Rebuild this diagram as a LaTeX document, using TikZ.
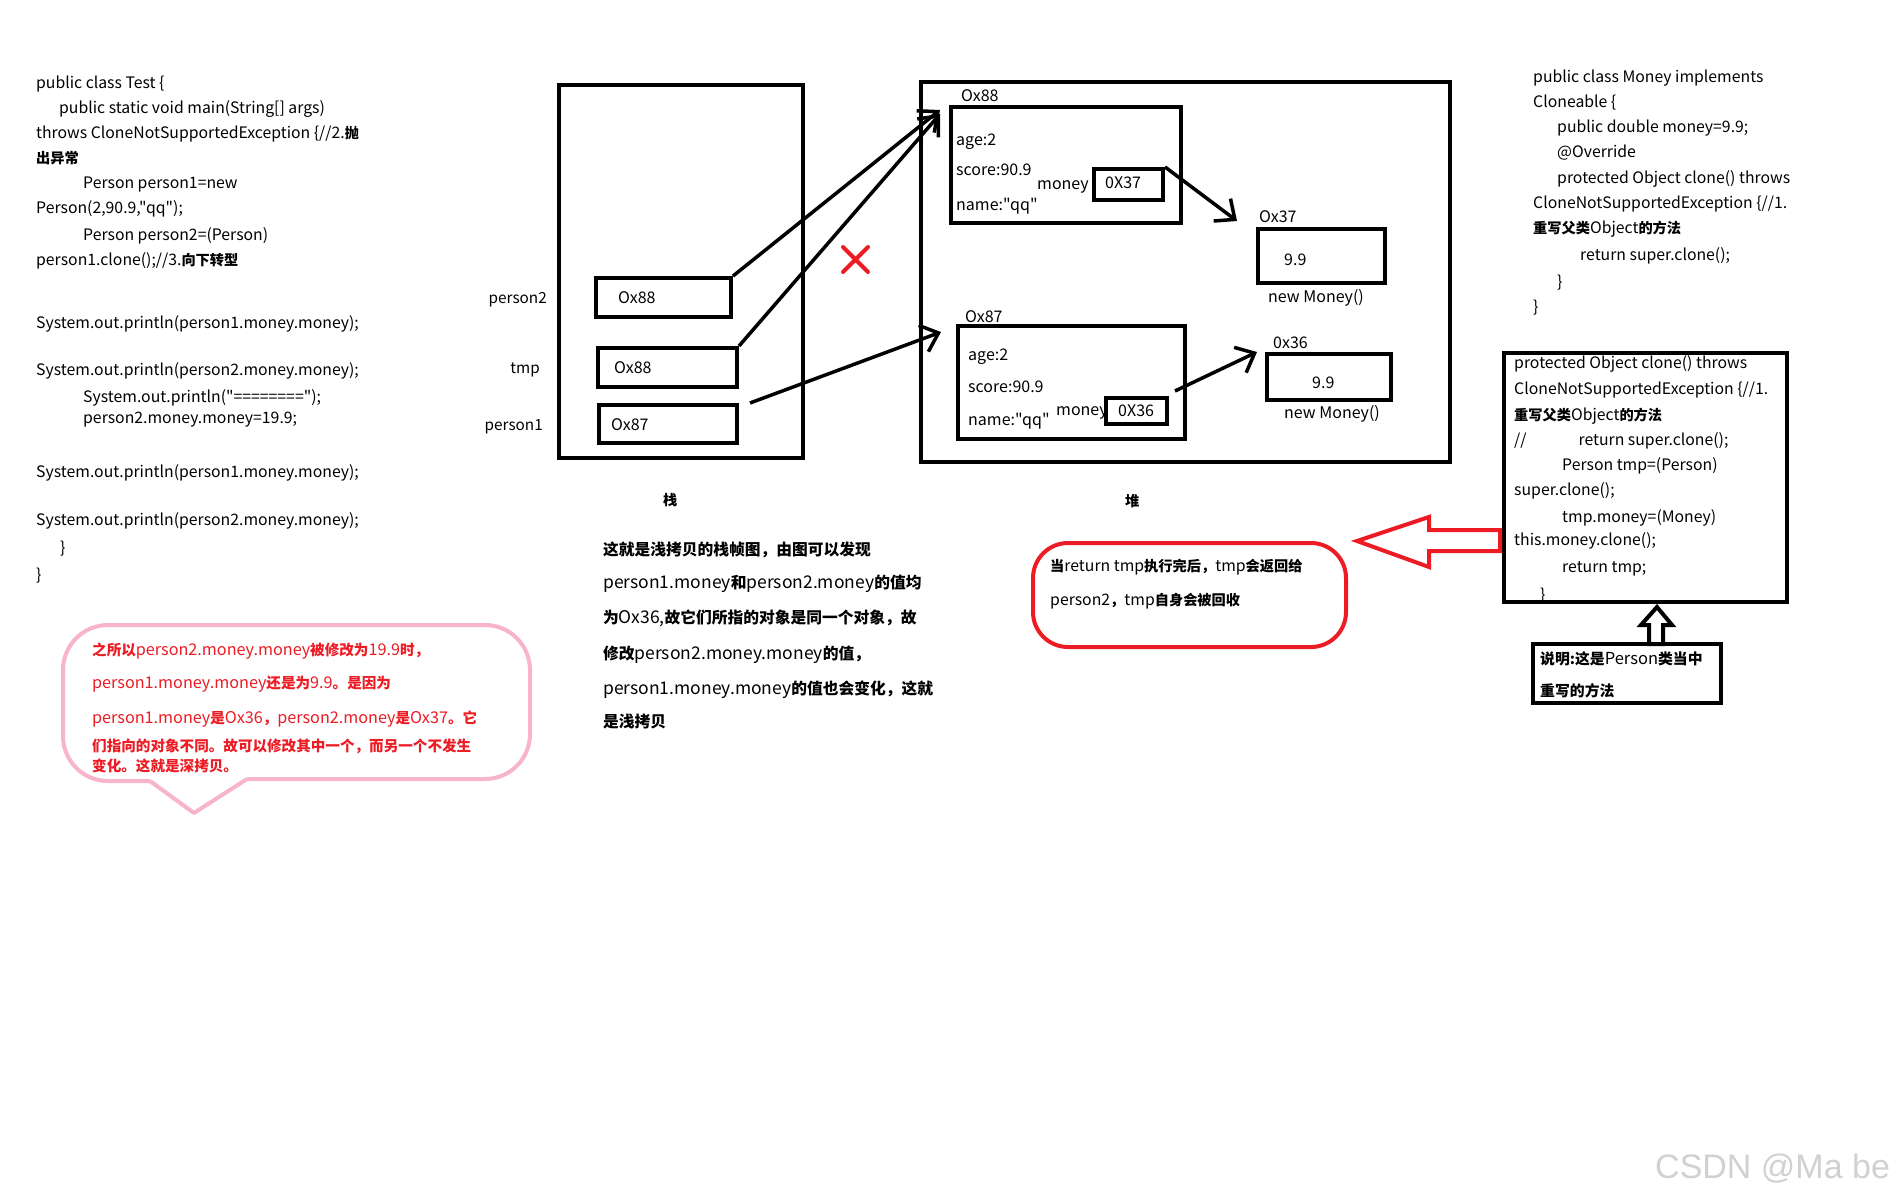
\documentclass[tikz,border=0pt]{standalone}
\usepackage{fontspec}
\setmainfont{Noto Sans CJK SC}[Ligatures=TeXOff]
\newfontfamily\cjkb{Noto Sans CJK SC}[Scale=0.9]
\newfontfamily\wmfont{Liberation Sans}
\usetikzlibrary{positioning, arrows.meta, calc}
\definecolor{redc}{HTML}{ED1C24}
\definecolor{pinkc}{HTML}{F8B4CB}
\newcommand{\zh}[1]{{\cjkb\bfseries #1}}

\begin{document}
\begin{tikzpicture}[x=1pt, y=-1pt,
    frame/.style={draw, line width=4pt, inner sep=0pt},
    cell/.style={draw, line width=4pt, inner sep=0pt},
    code/.style={anchor=base west, inner sep=0pt, font=\fontsize{15.8}{18}\selectfont},
    para/.style={code, font=\fontsize{17.5}{20}\selectfont},
    lbl/.style={anchor=base west, inner sep=0pt, font=\fontsize{16}{19}\selectfont},
    lblr/.style={lbl, anchor=base east, font=\fontsize{15.3}{18}\selectfont},
    arr/.style={-{Straight Barb[length=16pt, width=28pt]}, line width=3.5pt},
    hollow/.style={line width=4pt, fill=white, line join=miter},
  ]
    \useasboundingbox (0,0) rectangle (1900,1200);
    \fill[white] (0,0) rectangle (1900,1200);

    % left code
    \foreach \x/\y/\tx [count=\i] in {
        36/88/{public class Test \{},
        59/113/{public static void main(String[] args)},
        36/138/{throws CloneNotSupportedException \{//2.\zh{抛}},
        36/163/{\zh{出异常}},
        83/188/{Person person1=new},
        36/213/{Person(2,90.9,"qq");},
        83/240/{Person person2=(Person)},
        36/265/{person1.clone();//3.\zh{向下转型}},
        36/328/{System.out.println(person1.money.money);},
        36/375/{System.out.println(person2.money.money);},
        83/402/{System.out.println("========");},
        83/423/{person2.money.money=19.9;},
        36/477/{System.out.println(person1.money.money);},
        36/525/{System.out.println(person2.money.money);},
        60/553/{\}},
        36/580/{\}}}
      \node[code] (tl\i) at (\x,\y) {\tx};

    % stack
    \node[frame, minimum width=244, minimum height=373] (stack) at (681,271.5) {};
    \node[cell, minimum width=135, minimum height=39] (p2) at (663.5,297.5) {};
    \node[cell, minimum width=139, minimum height=39] (tm) at (667.5,367.5) {};
    \node[cell, minimum width=138, minimum height=38] (p1) at (668,424) {};
    \node[lbl] (p2v) at (618,303) {Ox88};
    \node[lbl] (tmv) at (614,373) {Ox88};
    \node[lbl] (p1v) at (611,430) {Ox87};
    \node[lblr] (p2n) at (547,303) {person2};
    \node[lblr] (tmn) at (540,373) {tmp};
    \node[lblr] (p1n) at (543,430) {person1};
    \node[code] (stk) at (663,505) {\zh{栈}};

    % heap
    \node[frame, minimum width=529, minimum height=380] (heap) at (1185.5,272) {};
    \node[cell, minimum width=230, minimum height=116] (h88) at (1066,165) {};
    \node[cell, minimum width=69, minimum height=31] (m37) at (1128.5,184.5) {};
    \node[cell, minimum width=127, minimum height=54] (mo37) at (1321.5,256) {};
    \node[cell, minimum width=227, minimum height=113] (h87) at (1071.5,382.5) {};
    \node[cell, minimum width=61, minimum height=26] (m36) at (1136.5,411) {};
    \node[cell, minimum width=124, minimum height=46] (mo36) at (1329,377) {};
    \node[code] (hp) at (1125,506) {\zh{堆}};

    \node[lbl] (h88n) at (961,101) {Ox88};
    \node[lbl] (h88a) at (956,145) {age:2};
    \node[lbl] (h88s) at (956,175) {score:90.9};
    \node[lbl] (h88m) at (956,210) {name:"qq"};
    \node[lbl] (m37n) at (1037,189) {money};
    \node[lbl] (m37v) at (1105,188) {0X37};
    \node[lbl] (mo37n) at (1259,222) {Ox37};
    \node[lbl] (mo37v) at (1284,265) {9.9};
    \node[lbl] (mo37c) at (1268,302) {new Money()};

    \node[lbl] (h87n) at (965,322) {Ox87};
    \node[lbl] (h87a) at (968,360) {age:2};
    \node[lbl] (h87s) at (968,392) {score:90.9};
    \node[lbl] (h87m) at (968,425) {name:"qq"};
    \node[lbl] (m36n) at (1056,415) {money};
    \node[lbl] (m36v) at (1118,416) {0X36};
    \node[lbl] (mo36n) at (1273,348) {0x36};
    \node[lbl] (mo36v) at (1312,388) {9.9};
    \node[lbl] (mo36c) at (1284,418) {new Money()};

    \draw[arr] (p2.north east) -- ([shift={(-9,5)}]h88.north west);
    \draw[arr] (tm.north east) -- ([shift={(-9,9)}]h88.north west);
    \draw[arr] ([xshift=11]p1.north east) -- ([shift={(-15,8)}]h87.north west);
    \draw[arr] (m37.north east) -- ([shift={(-19,-6)}]mo37.north west);
    \draw[arr] ([shift={(6,-5)}]m36.north east) -- ([xshift=-8]mo36.north west);

    % red cross
    \draw[redc, line width=4pt, line cap=round] (843,247) -- (868,272) (868,247) -- (843,272);

    % shallow copy note
    \foreach \y/\tx [count=\i] in {
        555/{\zh{这就是浅拷贝的栈帧图，由图可以发现}},
        588/{person1.money\zh{和}person2.money\zh{的值均}},
        623/{\zh{为}Ox36,\zh{故它们所指的对象是同一个对象，故}},
        659/{\zh{修改}person2.money.money\zh{的值，}},
        694/{person1.money.money\zh{的值也会变化，这就}},
        727/{\zh{是浅拷贝}}}
      \node[para] (sh\i) at (603,\y) {\tx};

    % deep copy bubble
    \draw[pinkc, line width=4pt, rounded corners=45] (150,781) -- (63,781) -- (63,625) -- (530,625) -- (530,779) -- (247,779);
    \draw[pinkc, line width=4pt, line join=round] (150,781) -- (194,813) -- (247,779);
    \foreach \y/\tx [count=\i] in {
        655/{\zh{之所以}person2.money.money\zh{被修改为}19.9\zh{时，}},
        688/{person1.money.money\zh{还是为}9.9\zh{。是因为}},
        723/{person1.money\zh{是}Ox36\zh{，}person2.money\zh{是}Ox37\zh{。它}},
        751/{\zh{们指向的对象不同。故可以修改其中一个，而另一个不发生}},
        771/{\zh{变化。这就是深拷贝。}}}
      \node[code, text=redc, font=\fontsize{16.2}{19}\selectfont] (dp\i) at (92,\y) {\tx};

    % Money class
    \foreach \x/\y/\tx [count=\i] in {
        1533/82/{public class Money implements},
        1533/107/{Cloneable \{},
        1557/132/{public double money=9.9;},
        1557/157/{@Override},
        1557/183/{protected Object clone() throws},
        1533/208/{CloneNotSupportedException \{//1.},
        1533/233/{\zh{重写父类}Object\zh{的方法}},
        1580/260/{return super.clone();},
        1557/287/{\}},
        1533/312/{\}}}
      \node[code] (mc\i) at (\x,\y) {\tx};

    % Person clone
    \foreach \x/\y/\tx [count=\i] in {
        1514/368/{protected Object clone() throws},
        1514/394/{CloneNotSupportedException \{//1.},
        1514/420/{\zh{重写父类}Object\zh{的方法}},
        1514/445/{//\hspace{52pt}return super.clone();},
        1562/470/{Person tmp=(Person)},
        1514/495/{super.clone();},
        1562/522/{tmp.money=(Money)},
        1514/545/{this.money.clone();},
        1562/572/{return tmp;},
        1540/600/{\}}}
      \node[code] (pc\i) at (\x,\y) {\tx};
    \node[frame, minimum width=283, minimum height=249] (clone) at (1645.5,477.5) {};

    \node[frame, minimum width=188, minimum height=59] (note) at (1627,673.5) {};
    \node[code, font=\fontsize{16.5}{19}\selectfont] (note1) at (1540,664) {\zh{说明:这是}Person\zh{类当中}};
    \node[code, font=\fontsize{16.5}{19}\selectfont] (note2) at (1540,696) {\zh{重写的方法}};
    \draw[hollow] ([shift={(11.5,3)}]clone.south) -- ++(15,18) -- ++(-9,0) -- ++(0,19)
      -- ++(-14,0) -- ++(0,-19) -- ++(-8,0) -- cycle;

    % return note
    \node[draw=redc, line width=4pt, rounded corners=35, minimum width=313, minimum height=104] (ret) at (1189.5,595) {};
    \node[code] (ret1) at (1050,571) {\zh{当}return tmp\zh{执行完后，}tmp\zh{会返回给}};
    \node[code] (ret2) at (1050,605) {person2\zh{，}tmp\zh{自身会被回收}};
    \draw[hollow, draw=redc] ([xshift=9]ret.north east) -- ++(72,-24) -- ++(0,13) -- ++(71,0)
      -- ++(0,21) -- ++(-71,0) -- ++(0,16) -- cycle;

    \node[anchor=base west, inner sep=0pt, text=black!18, font=\wmfont\fontsize{34}{34}\selectfont] (wm) at (1655,1178) {CSDN @Ma be};
\end{tikzpicture}
\end{document}
